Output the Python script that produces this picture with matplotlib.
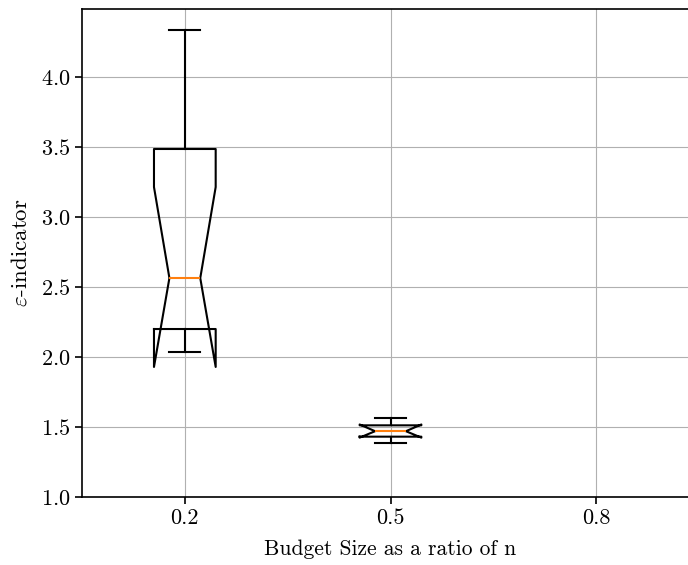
import matplotlib
matplotlib.use('Agg')
import matplotlib.pyplot as plt

plt.rcParams['font.family'] = 'serif'
plt.rcParams['font.serif'] = ['cmr10']
plt.rcParams['mathtext.fontset'] = 'cm'
plt.rcParams['axes.formatter.use_mathtext'] = True
plt.rcParams['font.size'] = 15.5

# budget ratios and box statistics
budgets = ['0.2', '0.5', '0.8']
medians = [2.564, 1.470]
q1s = [2.200, 1.431]
q3s = [3.486, 1.512]
whis_lo = [2.036, 1.386]
whis_hi = [4.336, 1.564]
ci_lo = [1.929, 1.424]
ci_hi = [3.214, 1.518]

stats = []
for i in range(len(medians)):
    stats.append({
        'med': medians[i], 'q1': q1s[i], 'q3': q3s[i],
        'whislo': whis_lo[i], 'whishi': whis_hi[i],
        'cilo': ci_lo[i], 'cihi': ci_hi[i], 'fliers': [],
    })

fig = plt.figure(figsize=(6.88, 5.65), dpi=100)
ax = fig.add_axes([82 / 688, 68 / 565, 617 / 688, 488 / 565])

lw = 1.5
ax.bxp(stats, positions=[1, 2], widths=0.3, shownotches=True,
       boxprops=dict(linewidth=lw),
       whiskerprops=dict(linewidth=lw),
       capprops=dict(linewidth=lw),
       medianprops=dict(linewidth=lw, color='C1'))

ax.set_xlim(0.5, 3.5)
ax.set_ylim(1.0, 4.486)
ax.set_xticks([1, 2, 3])
ax.set_xticklabels(budgets)
ax.set_yticks([1.0, 1.5, 2.0, 2.5, 3.0, 3.5, 4.0])
ax.grid(True)
ax.set_axisbelow(True)
for s in ax.spines.values():
    s.set_linewidth(1.2)
ax.tick_params(length=5, width=1.2, labelsize=16)

ax.set_xlabel('Budget Size as a ratio of n', labelpad=8)
ax.set_ylabel(r'$\varepsilon$-indicator', labelpad=7, fontsize=16.5)

fig.savefig('out.png', dpi=100)
